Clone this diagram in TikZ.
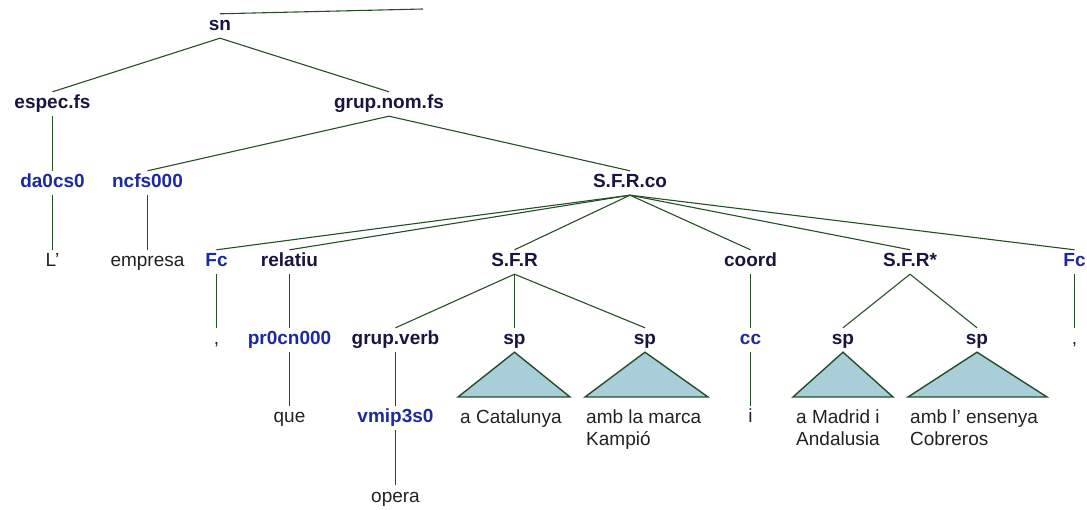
\documentclass[tikz,border=0pt]{standalone}
\usepackage{fontspec}
\setmainfont{Liberation Sans}
\definecolor{ntc}{RGB}{22,22,64}
\definecolor{posc}{RGB}{28,42,160}
\definecolor{termc}{RGB}{34,34,34}
\definecolor{edgec}{RGB}{38,78,38}
\definecolor{trif}{RGB}{168,206,218}
\tikzset{
  lab/.style={inner xsep=0pt, inner ysep=3.5pt, text height=13.5pt, text depth=3.5pt, font=\fontsize{19}{22}\selectfont},
  nt/.style={lab, text=ntc, font=\fontsize{19}{22}\selectfont\bfseries},
  postag/.style={lab, text=posc, font=\fontsize{19}{22}\selectfont\bfseries},
  term/.style={lab, text=termc},
  mterm/.style={inner sep=0pt, anchor=north west, align=left, text=termc, font=\fontsize{19}{22}\selectfont},
  edge/.style={draw=edgec, line width=1.1pt},
  tri/.style={draw=edgec, line width=1.4pt, fill=trif, line join=miter}
}
\begin{document}
\begin{tikzpicture}[x=1pt,y=-1pt]
\useasboundingbox (0,0) rectangle (1087,510);
% level 0
\node[nt] (sn) at (220,26) {sn};
\coordinate (up) at (423,9);
% level 1
\node[nt] (espec) at (52.5,104) {espec.fs};
\node[nt] (gnom) at (389,104) {grup.nom.fs};
% level 2
\node[postag] (da) at (52.5,183) {da0cs0};
\node[postag] (ncfs) at (147.5,183) {ncfs000};
\node[nt] (sfrco) at (630,183) {S.F.R.co};
% level 3
\node[term] (L) at (52.5,262) {L’};
\node[term] (empresa) at (147.5,262) {empresa};
\node[postag] (fc1) at (216.5,262) {Fc};
\node[nt] (relatiu) at (289.5,262) {relatiu};
\node[nt] (sfr) at (514.5,262) {S.F.R};
\node[nt] (coord) at (750.5,262) {coord};
\node[nt] (sfrs) at (910,262) {S.F.R*};
\node[postag] (fc2) at (1074.5,262) {Fc};
% level 4
\node[term] (com1) at (216.5,340) {,};
\node[postag] (pr) at (289.5,340) {pr0cn000};
\node[nt] (gverb) at (395.5,340) {grup.verb};
\node[nt] (sp1) at (514.5,340) {sp};
\node[nt] (sp2) at (645,340) {sp};
\node[postag] (cc) at (750.5,340) {cc};
\node[nt] (sp3) at (843,340) {sp};
\node[nt] (sp4) at (977,340) {sp};
\node[term] (com2) at (1074.5,340) {,};
% level 5
\node[term] (que) at (289.5,418) {que};
\node[postag] (vmip) at (395.5,418) {vmip3s0};
\node[term] (i) at (750.5,418) {i};
% level 6
\node[term] (opera) at (395.5,497) {opera};
% edges
\draw[edge] (sn.north) -- (up);
\draw[edge] (sn.south) -- (espec.north);
\draw[edge] (sn.south) -- (gnom.north);
\draw[edge] (espec.south) -- (da.north);
\draw[edge] (da.south) -- (L.north);
\draw[edge] (gnom.south) -- (ncfs.north);
\draw[edge] (gnom.south) -- (sfrco.north);
\draw[edge] (ncfs.south) -- (empresa.north);
\foreach \c in {fc1,relatiu,sfr,coord,sfrs,fc2}
  \draw[edge] (sfrco.south) -- (\c.north);
\draw[edge] (fc1.south) -- (com1.north);
\draw[edge] (relatiu.south) -- (pr.north);
\draw[edge] (pr.south) -- (que.north);
\draw[edge] (sfr.south) -- (gverb.north);
\draw[edge] (sfr.south) -- (sp1.north);
\draw[edge] (sfr.south) -- (sp2.north);
\draw[edge] (gverb.south) -- (vmip.north);
\draw[edge] (vmip.south) -- (opera.north);
\draw[edge] (coord.south) -- (cc.north);
\draw[edge] (cc.south) -- (i.north);
\draw[edge] (sfrs.south) -- (sp3.north);
\draw[edge] (sfrs.south) -- (sp4.north);
\draw[edge] (fc2.south) -- (com2.north);
% triangles
\draw[tri] (sp1.south) -- (570,397) -- (458,397) -- cycle;
\draw[tri] (sp2.south) -- (708,397) -- (585,397) -- cycle;
\draw[tri] (sp3.south) -- (893,397) -- (793,397) -- cycle;
\draw[tri] (sp4.south) -- (1047,397) -- (908,397) -- cycle;
% multi-line terminals
\node[mterm] (t1) at (460,410) {a Catalunya};
\node[mterm] (t2) at (586,410) {amb la marca\\Kampió};
\node[mterm] (t3) at (796,410) {a Madrid i\\Andalusia};
\node[mterm] (t4) at (910,410) {amb l’ ensenya\\Cobreros};
\end{tikzpicture}
\end{document}
